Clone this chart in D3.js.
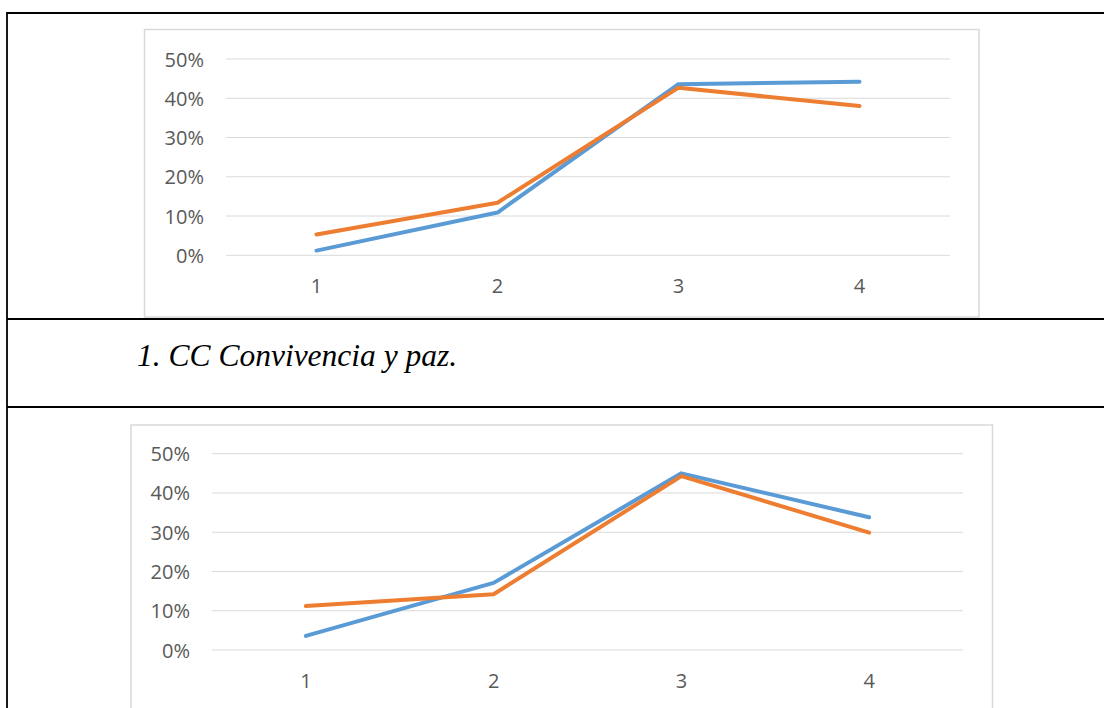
<!DOCTYPE html>
<html>
<head>
  <meta http-equiv="Content-Type" content="text/html;charset=utf-8">
  <title>CC Convivencia y paz</title>
  <script src="https://d3js.org/d3.v7.min.js"></script>
  <style type="text/css">
    body { margin: 0; background: #fff; }
    .grid line { stroke: #d9d9d9; stroke-width: 1px; }
    .axis text { fill: #595959; font-family: "Open Sans", "Noto Sans", sans-serif; font-size: 20px; }
    .frame { fill: #fff; stroke: #d9d9d9; stroke-width: 1.5px; }
    .series { fill: none; stroke-width: 4px; stroke-linecap: round; stroke-linejoin: round; }
    .rule { stroke: #000; stroke-width: 1.8px; }
  </style>
</head>
<body>
  <svg width="1104" height="708"></svg>
  <script type='text/javascript'>
    const categories = ['1', '2', '3', '4'];
    const yTicks = [0, 0.1, 0.2, 0.3, 0.4, 0.5];
    const seriesColors = ['#5b9bd5', '#ed7d31'];

    // chart 1 (upper)
    const chart1Blue = [0.012, 0.109, 0.436, 0.442];
    const chart1Orange = [0.053, 0.134, 0.427, 0.380];
    // chart 2 (lower)
    const chart2Blue = [0.036, 0.171, 0.450, 0.338];
    const chart2Orange = [0.112, 0.142, 0.443, 0.299];

    const caption = '1. CC Convivencia y paz.';

    const svg = d3.select('svg');
    const fmt = d3.format('.0%');

    function drawChart(box, plot, series) {
      const g = svg.append('g');
      g.append('rect').attr('class', 'frame')
        .attr('x', box.x).attr('y', box.y)
        .attr('width', box.w).attr('height', box.h);

      const x = d3.scaleBand().domain(categories).range([plot.x0, plot.x1]);
      const y = d3.scaleLinear().domain([0, 0.5]).range([plot.y0, plot.y1]);

      g.append('g').attr('class', 'grid')
        .selectAll('line').data(yTicks).enter().append('line')
          .attr('x1', plot.x0).attr('x2', plot.x1)
          .attr('y1', (d) => y(d)).attr('y2', (d) => y(d));

      const yAxis = g.append('g').attr('class', 'axis')
        .attr('transform', `translate(${plot.x0 - 22},0)`)
        .call(d3.axisLeft(y).tickValues(yTicks).tickFormat(fmt).tickSize(0).tickPadding(0));
      yAxis.select('.domain').remove();
      yAxis.selectAll('text').attr('dy', '0.35em');

      const xAxis = g.append('g').attr('class', 'axis')
        .attr('transform', `translate(0,${plot.y0 + 31})`)
        .call(d3.axisBottom(x).tickSize(0).tickPadding(0));
      xAxis.select('.domain').remove();
      xAxis.selectAll('text').attr('y', 0).attr('dy', '0.35em');

      const line = d3.line()
        .x((d, i) => x(categories[i]) + x.bandwidth() / 2)
        .y((d) => y(d));

      series.forEach((s, i) => {
        g.append('path').attr('class', 'series')
          .attr('d', line(s))
          .attr('stroke', seriesColors[i]);
      });
    }

    drawChart({x: 144.5, y: 29.5, w: 834.5, h: 287.5},
              {x0: 226, x1: 950, y0: 255.3, y1: 59},
              [chart1Blue, chart1Orange]);

    drawChart({x: 131, y: 425, w: 861.5, h: 300},
              {x0: 212, x1: 963, y0: 650, y1: 453.7},
              [chart2Blue, chart2Orange]);

    // table rules
    const rules = svg.append('g');
    [13, 319, 407].forEach((yy) => {
      rules.append('line').attr('class', 'rule')
        .attr('x1', 7).attr('x2', 1104).attr('y1', yy).attr('y2', yy);
    });
    rules.append('line').attr('class', 'rule')
      .attr('x1', 7).attr('x2', 7).attr('y1', 12).attr('y2', 708);

    svg.append('text')
      .attr('x', 137).attr('y', 366)
      .style('font-family', '"Liberation Serif", "Times New Roman", serif')
      .style('font-style', 'italic')
      .style('font-size', '31.5px')
      .style('fill', '#000')
      .text(caption);
  </script>
</body>
</html>
